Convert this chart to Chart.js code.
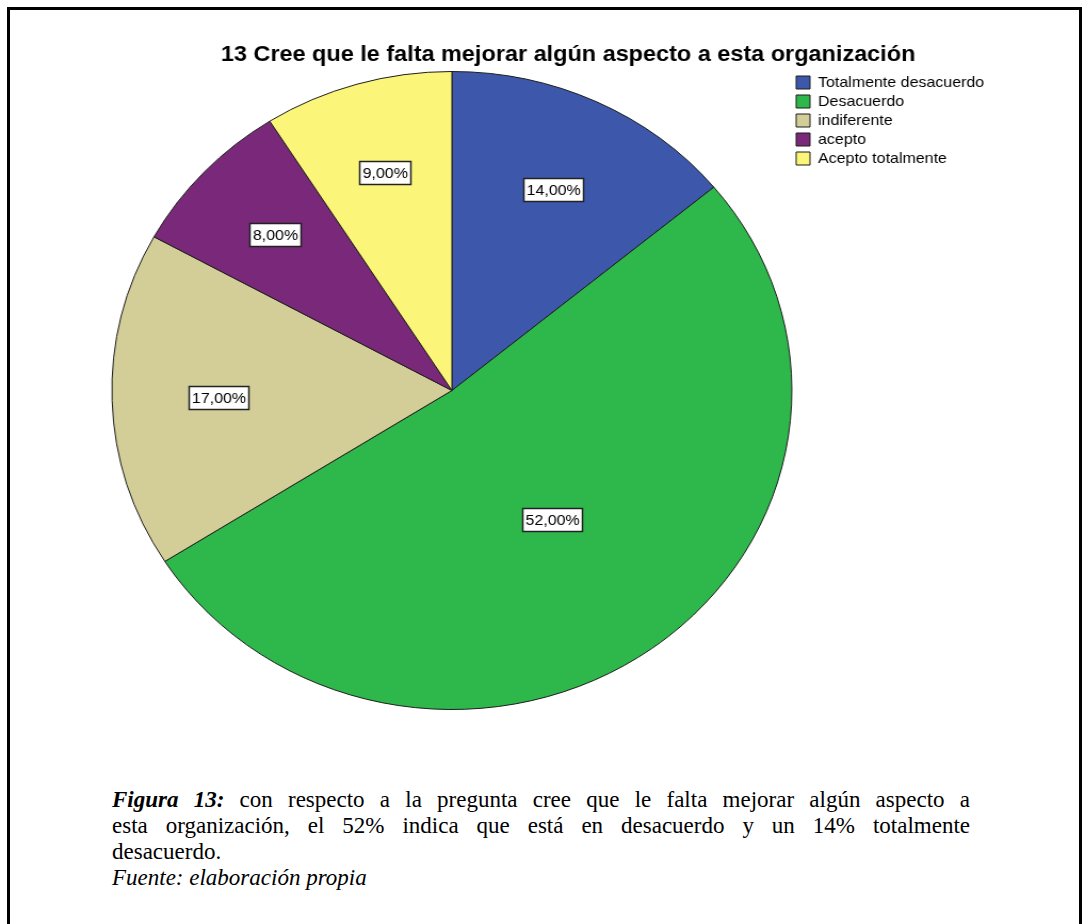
<!DOCTYPE html>
<html>
<head>
<meta charset="utf-8">
<script src="https://cdn.jsdelivr.net/npm/chart.js@4.4.1/dist/chart.umd.min.js"></script>
<style>
  html, body { margin: 0; padding: 0; background: #fff; }
  body { width: 1088px; height: 924px; position: relative; overflow: hidden; }
  #marco { position: absolute; left: 7px; top: 7px; width: 1075px; height: 960px; border: 3px solid #000; box-sizing: border-box; }
  /* el grafico original esta estirado en horizontal */
  #grafico { position: absolute; left: 0; top: 0; width: 1021px; height: 730px; transform: scaleX(1.0658); transform-origin: 0 0; }
  #nota { position: absolute; left: 112px; top: 787px; width: 858px; font-family: "Liberation Serif", "Times New Roman", serif; font-size: 23px; line-height: 26px; color: #000; }
  .just { text-align: justify; text-align-last: justify; white-space: nowrap; }
</style>
</head>
<body>
<div id="marco"></div>
<div id="grafico"><canvas id="pastel"></canvas></div>
<div id="nota">
  <div class="just"><b><i>Figura 13:</i></b> con respecto a la pregunta cree que le falta mejorar algún aspecto a</div>
  <div class="just">esta organización, el 52% indica que está en desacuerdo y un 14% totalmente</div>
  <div>desacuerdo.</div>
  <div><i>Fuente: elaboración propia</i></div>
</div>
<script>
const titulo = '13 Cree que le falta mejorar algún aspecto a esta organización';
const categorias = ['Totalmente desacuerdo', 'Desacuerdo', 'indiferente', 'acepto', 'Acepto totalmente'];
const porcentajes = [14, 52, 17, 8, 9];

const fuente = '"Liberation Sans", Arial, sans-serif';

function formato(v) {
    return v.toFixed(2).replace('.', ',') + '%';
}

// Coloca titulo, leyenda y el circulo donde estan en la imagen
const posicionar = {
    id: 'posicionar',
    afterLayout(chart) {
        const cx = 424, cy = 390.5, r = 319.5;
        chart.chartArea = { left: cx - r, right: cx + r, top: cy - r, bottom: cy + r, width: 2 * r, height: 2 * r };

        const t = chart.titleBlock;
        t.left = 0; t.right = 1066;
        t.top = 42; t.bottom = t.top + t.height;

        const lg = chart.legend;
        const w = lg.width, h = lg.height;
        lg.left = 743; lg.top = 71;
        lg.right = lg.left + w; lg.bottom = lg.top + h;
    }
};

// Etiquetas con recuadro blanco dentro de cada sector
const etiquetas = {
    id: 'etiquetas',
    afterDatasetsDraw(chart) {
        const ctx = chart.ctx;
        const meta = chart.getDatasetMeta(0);
        ctx.save();
        ctx.font = '15px ' + fuente;
        ctx.textAlign = 'center';
        ctx.textBaseline = 'middle';
        meta.data.forEach((arc, i) => {
            const p = arc.getProps(['x', 'y', 'startAngle', 'endAngle', 'outerRadius'], true);
            const mitad = (p.endAngle - p.startAngle) / 2;
            const medio = p.startAngle + mitad;
            // cerca del centroide del sector
            const frac = Math.max(2 * Math.sin(mitad) / (3 * mitad) * 1.08, 0.5);
            const px = p.x + frac * p.outerRadius * Math.cos(medio);
            const py = p.y + frac * p.outerRadius * Math.sin(medio);
            const txt = formato(porcentajes[i]);
            const w = Math.round(ctx.measureText(txt).width + 5);
            const h = 23;
            const x0 = Math.round(px - w / 2) + 0.5, y0 = Math.round(py - h / 2) + 0.5;
            ctx.fillStyle = '#fff';
            ctx.fillRect(x0, y0, w, h);
            ctx.strokeStyle = '#222';
            ctx.lineWidth = 1.5;
            ctx.strokeRect(x0, y0, w, h);
            ctx.fillStyle = '#000';
            ctx.fillText(txt, x0 + w / 2, y0 + h / 2 + 1);
        });
        ctx.restore();
    }
};

new Chart(document.getElementById('pastel').getContext('2d'), {
    type: 'pie',
    data: {
        labels: categorias,
        datasets: [{
            data: porcentajes,
            backgroundColor: ['#3d58ab', '#2eb84b', '#d3ce98', '#7a287a', '#fbf679'],
            borderColor: '#1c1c1c',
            borderWidth: 1,
            hoverOffset: 0,
            offset: 0,
            clip: false
        }]
    },
    options: {
        responsive: true,
        maintainAspectRatio: false,
        animation: false,
        events: [],
        layout: { padding: 0 },
        plugins: {
            title: {
                display: true,
                text: titulo,
                color: '#000',
                padding: 0,
                font: { family: fuente, size: 22, weight: 'bold' }
            },
            legend: {
                position: 'right',
                align: 'start',
                labels: {
                    boxWidth: 13,
                    boxHeight: 13,
                    padding: 4,
                    color: '#000',
                    font: { family: fuente, size: 15 }
                }
            },
            tooltip: { enabled: false }
        }
    },
    plugins: [posicionar, etiquetas]
});
</script>
</body>
</html>
